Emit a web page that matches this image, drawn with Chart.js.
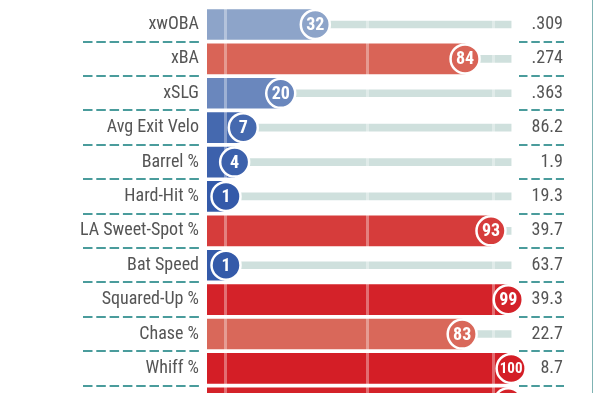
<!DOCTYPE html>
<html lang="en">
<head>
<meta charset="UTF-8">
<title>Percentile Rankings</title>
<script src="https://cdn.jsdelivr.net/npm/chart.js@4"></script>
<style>
  html, body { margin: 0; padding: 0; background: #fff; overflow: hidden; }
</style>
</head>
<body>
<canvas id="pctChart" width="594" height="430"></canvas>

<script>
// Percentile rankings
const metrics = ['xwOBA', 'xBA', 'xSLG', 'Avg Exit Velo', 'Barrel %', 'Hard-Hit %',
                 'LA Sweet-Spot %', 'Bat Speed', 'Squared-Up %', 'Chase %', 'Whiff %', 'K %'];
const percentiles = [32, 84, 20, 7, 4, 1, 93, 1, 99, 83, 100, 99];
const statValues = ['.309', '.274', '.363', '86.2', '1.9', '19.3', '39.7', '63.7', '39.3', '22.7', '8.7', ''];
const guideLines = [0.7, 50, 93.7];

const xMin = -5.6;
const xMax = 100.3;
const labelFont = "'Roboto Condensed','Liberation Sans Narrow','DejaVu Sans Condensed',Roboto,sans-serif";

// blue (low) -> grey -> red (high), like savant
const colorStops = [
    [0, [49, 88, 168]],
    [50, [192, 206, 220]],
    [83, [217, 104, 90]],
    [100, [212, 30, 38]]
];
function pctColor(p) {
    for (let i = 1; i < colorStops.length; i++) {
        const [p0, c0] = colorStops[i - 1];
        const [p1, c1] = colorStops[i];
        if (p <= p1) {
            const t = (p - p0) / (p1 - p0);
            const c = c0.map((v, k) => Math.round(v + (c1[k] - v) * t));
            return `rgb(${c[0]},${c[1]},${c[2]})`;
        }
    }
    return 'rgb(212,30,38)';
}

const overlay = {
    id: 'overlay',
    afterDatasetsDraw(chart) {
        const { ctx, chartArea, scales: { x, y } } = chart;
        ctx.save();

        // faint guide lines over the bars
        ctx.strokeStyle = 'rgba(255,255,255,0.35)';
        ctx.lineWidth = 3;
        guideLines.forEach(v => {
            const px = Math.round(x.getPixelForValue(v)) + 0.5;
            ctx.beginPath();
            ctx.moveTo(px, chartArea.top);
            ctx.lineTo(px, chartArea.bottom);
            ctx.stroke();
        });

        // percentile circles
        const bars = chart.getDatasetMeta(1).data;
        bars.forEach((bar, i) => {
            const p = percentiles[i];
            ctx.beginPath();
            ctx.arc(bar.x, bar.y, 14.5, 0, Math.PI * 2);
            ctx.fillStyle = pctColor(p);
            ctx.fill();
            ctx.lineWidth = 2.5;
            ctx.strokeStyle = '#fff';
            ctx.stroke();
            ctx.fillStyle = '#fff';
            ctx.textAlign = 'center';
            ctx.textBaseline = 'middle';
            ctx.font = (p >= 100 ? 'bold 15px ' : 'bold 18px ') + labelFont;
            ctx.fillText(String(p), bar.x, bar.y + 1);
        });

        // dashed row separators
        ctx.strokeStyle = '#4a9c9c';
        ctx.lineWidth = 2;
        for (let i = 1; i < metrics.length; i++) {
            const sy = Math.round((y.getPixelForValue(i - 1) + y.getPixelForValue(i)) / 2);
            ctx.setLineDash([9.5, 3.8]);
            ctx.beginPath();
            ctx.moveTo(83, sy);
            ctx.lineTo(199, sy);
            ctx.stroke();
            ctx.setLineDash([8.5, 3.8]);
            ctx.beginPath();
            ctx.moveTo(519, sy);
            ctx.lineTo(564, sy);
            ctx.stroke();
        }
        ctx.setLineDash([]);

        // stat values on the right
        ctx.fillStyle = '#555';
        ctx.textAlign = 'right';
        ctx.textBaseline = 'middle';
        ctx.font = '18px ' + labelFont;
        bars.forEach((bar, i) => ctx.fillText(statValues[i], 563, bar.y));

        // right border
        ctx.strokeStyle = '#7fb3b3';
        ctx.lineWidth = 1;
        ctx.beginPath();
        ctx.moveTo(592.5, 0);
        ctx.lineTo(592.5, 430);
        ctx.stroke();

        ctx.restore();
    }
};

new Chart(document.getElementById('pctChart'), {
    type: 'bar',
    data: {
        labels: metrics,
        datasets: [
            {
                // background track
                data: metrics.map(() => 100),
                base: xMin,
                backgroundColor: '#cfe0dd',
                barThickness: 7,
                grouped: false,
                order: 2
            },
            {
                data: percentiles,
                base: xMin,
                backgroundColor: percentiles.map(pctColor),
                barThickness: 30,
                grouped: false,
                order: 1
            }
        ]
    },
    options: {
        indexAxis: 'y',
        responsive: false,
        animation: false,
        layout: { padding: { top: 7.3, bottom: 10, left: 0, right: 82 } },
        plugins: {
            legend: { display: false },
            tooltip: { enabled: false }
        },
        scales: {
            x: { min: xMin, max: xMax, display: false },
            y: {
                grid: { display: false, drawTicks: false },
                border: { display: false },
                ticks: {
                    color: '#555',
                    padding: 8,
                    font: { family: labelFont, size: 18 }
                },
                afterFit(scale) {
                    scale.width = 207;
                    scale.paddingTop = 0;
                    scale.paddingBottom = 0;
                }
            }
        }
    },
    plugins: [overlay]
});
</script>
</body>
</html>
